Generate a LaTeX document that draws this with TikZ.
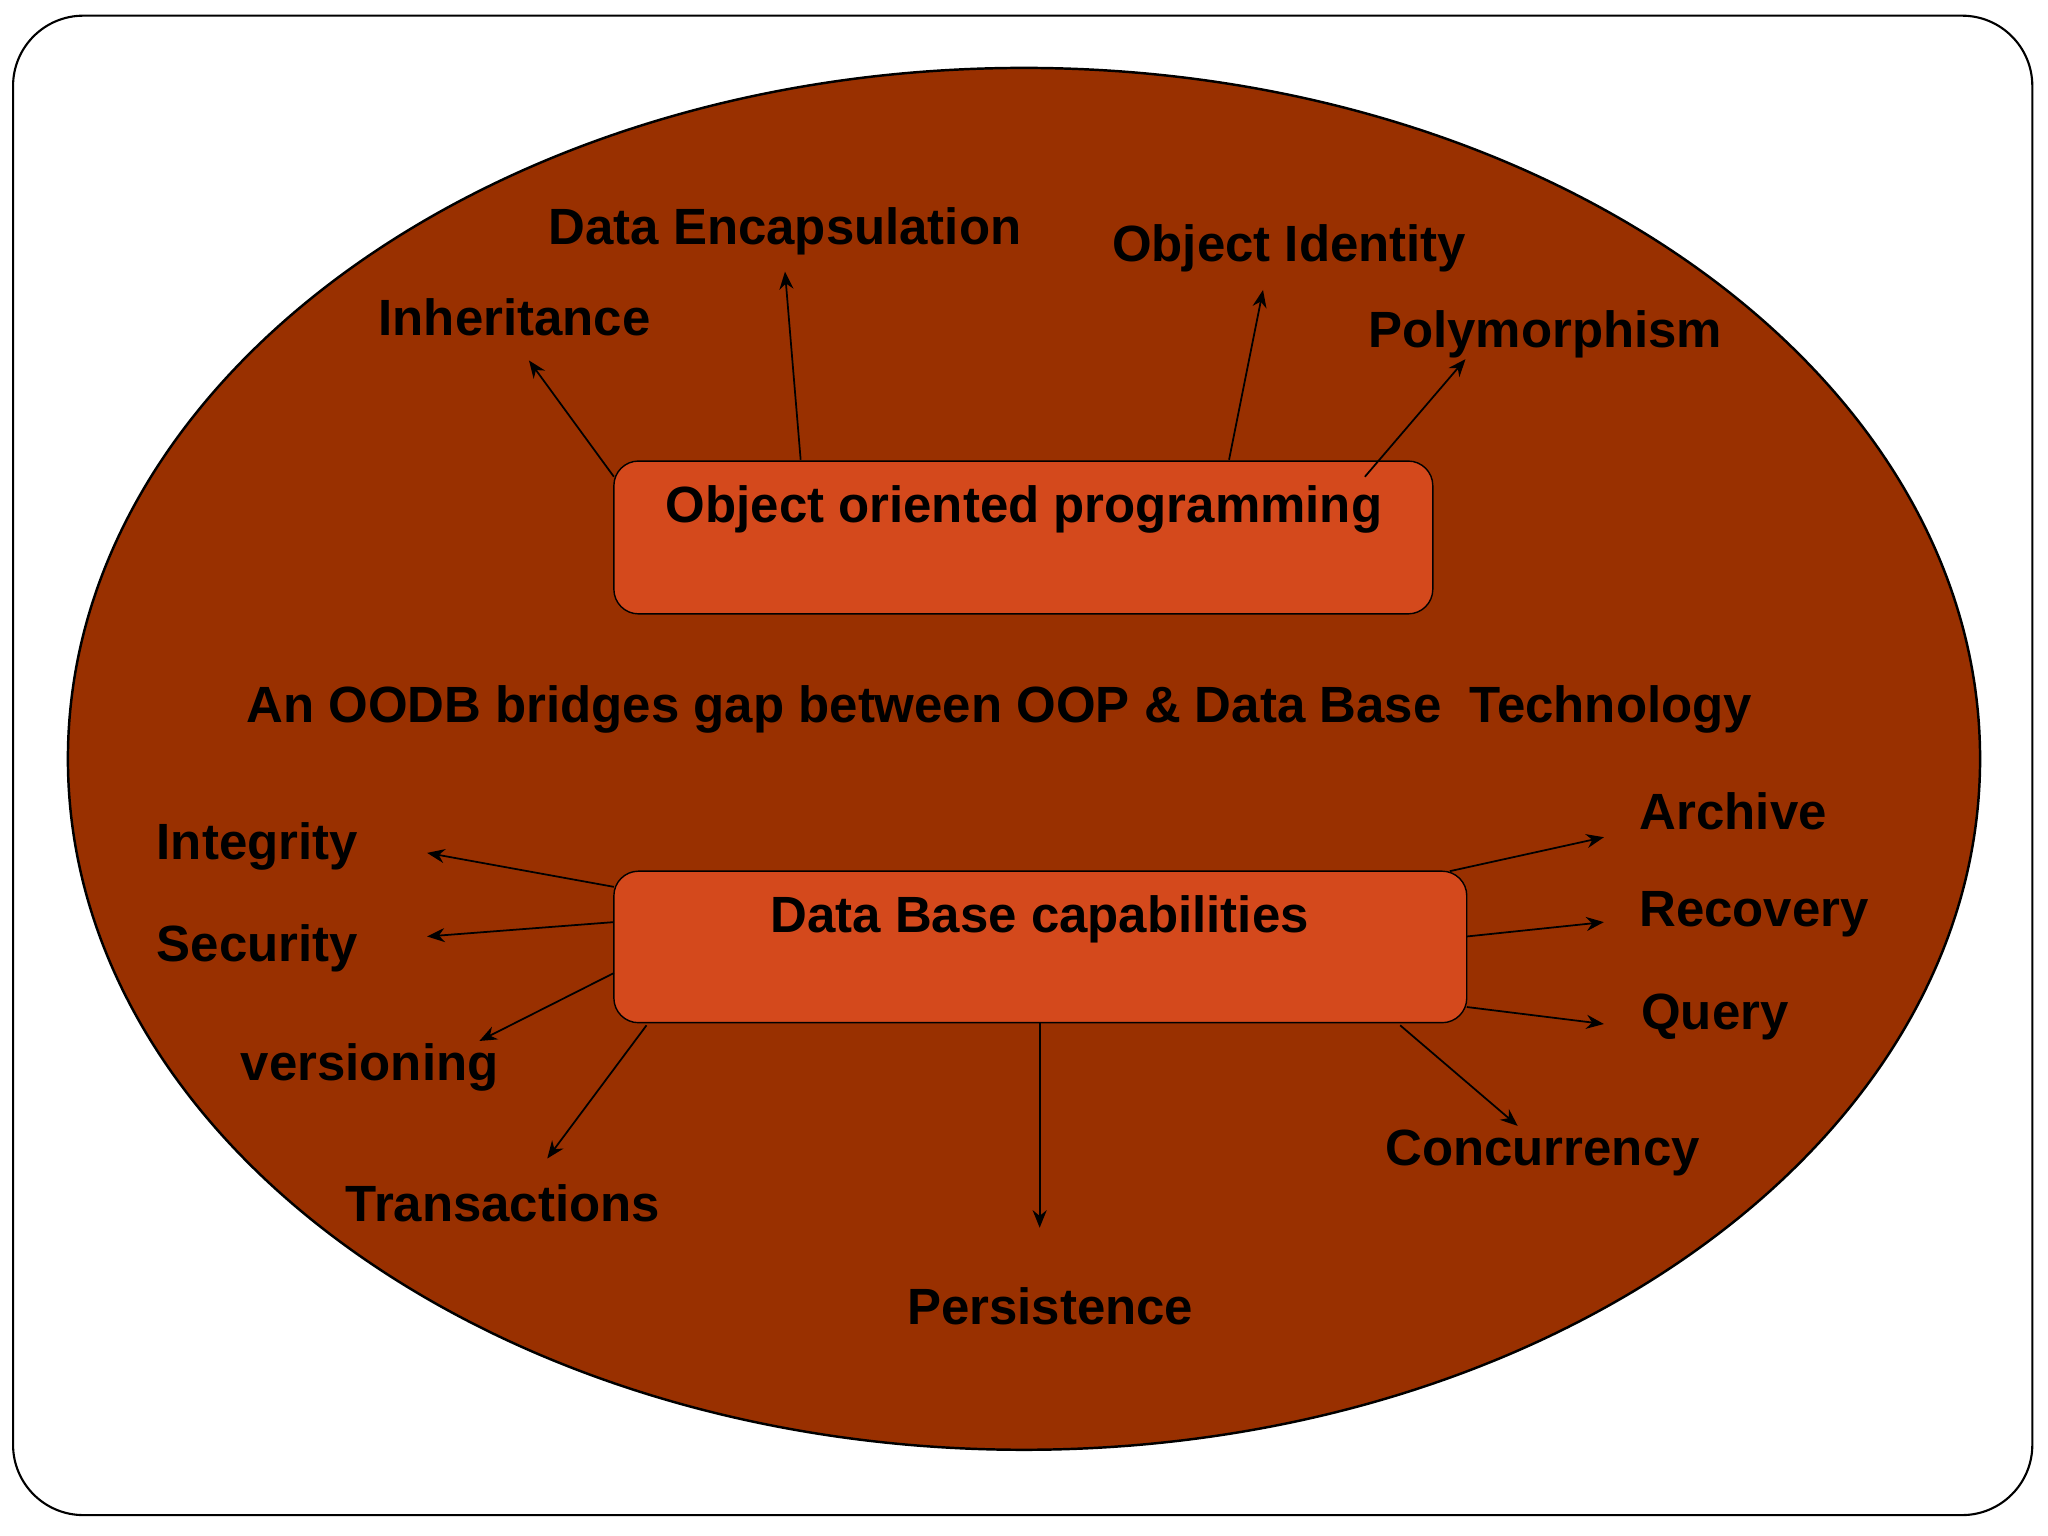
\documentclass[tikz,border=0pt]{standalone}
\usepackage{fontspec}
\setmainfont{Liberation Sans}
\usetikzlibrary{arrows.meta}
\definecolor{ell}{HTML}{993000}
\definecolor{boxc}{HTML}{D4491C}
\tikzset{
  lbl/.style={font=\bfseries\fontsize{14.5}{17}\selectfont, text=black},
  capbox/.style={draw=black, fill=boxc, rounded corners=7pt},
  arr/.style={draw=black, line width=0.5pt, -{Stealth[length=5pt,width=4pt]}}
}
\begin{document}
\begin{tikzpicture}[x=0.013061cm,y=-0.013061cm]
\useasboundingbox (0,0) rectangle (1568,1176);
\draw[line width=0.6pt, rounded corners=20pt] (10,12) rectangle (1556,1160);
\draw[fill=ell, line width=0.7pt] (784,581) ellipse [x radius=732, y radius=529];
\draw[capbox] (470,353) rectangle (1097,470);
\draw[capbox] (470,667) rectangle (1123,783);
\node[lbl] (oop) at (784,390) {Object oriented programming};
\node[lbl] (db) at (796,704) {Data Base capabilities};
\node[lbl] (mid) at (765,543) {An OODB bridges gap between OOP \& Data Base\ \ Technology};
% labels
\node[lbl] (inh) at (394,243) {Inheritance};
\node[lbl] (enc) at (601,177) {Data Encapsulation};
\node[lbl] (oid) at (987,190) {Object Identity};
\node[lbl] (poly) at (1183,256) {Polymorphism};
\node[lbl] (int) at (197,648) {Integrity};
\node[lbl] (sec) at (197,726) {Security};
\node[lbl] (ver) at (283,817) {versioning};
\node[lbl] (tra) at (385,921) {Transactions};
\node[lbl] (per) at (804,1000) {Persistence};
\node[lbl] (con) at (1181,883) {Concurrency};
\node[lbl] (que) at (1313,779) {Query};
\node[lbl] (rec) at (1343,700) {Recovery};
\node[lbl] (arc) at (1327,621) {Archive};
% coordinates
\foreach \n/\x/\y in {s1/470/365,e1/405/276,s2/613/352,e2/601/208,s3/941/352,e3/967/222,s4/1045/365,e4/1122/275,
 s5/470/679,e5/327/653,s6/470/706,e6/327/717,s7/470/745,e7/367/797,s8/495/785,e8/419/887,s9/796/783,e9/796/940,
 s10/1072/785,e10/1162/862,s11/1123/771,e11/1228/784,s12/1123/717,e12/1228/706,s13/1110/667,e13/1228/641}
  {\coordinate (\n) at (\x,\y);}
\foreach \i in {1,...,13}{\draw[arr] (s\i) -- (e\i);}
\end{tikzpicture}
\end{document}
